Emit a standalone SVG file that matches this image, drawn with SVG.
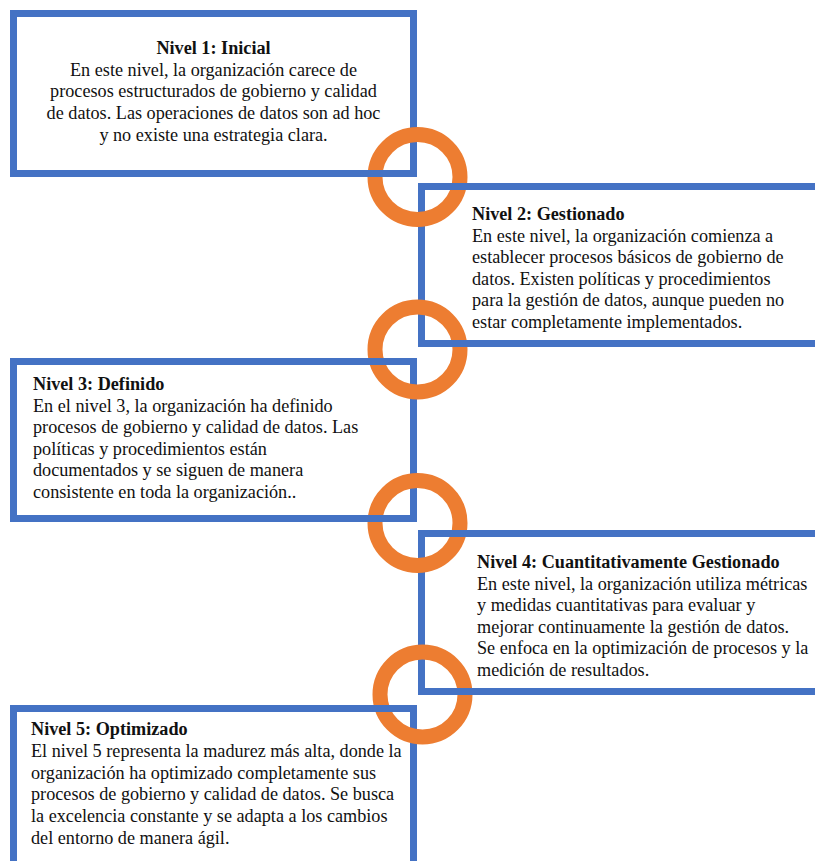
<svg xmlns="http://www.w3.org/2000/svg" width="815" height="861" viewBox="0 0 815 861">
<style>
.box{fill:#fff;stroke:#4472C4;stroke-width:7}
.edge{stroke:#4472C4;stroke-width:7;fill:none}
.ring{fill:none;stroke:#ED7D31;stroke-width:15}
text{font-family:'Liberation Serif','Times New Roman','DejaVu Serif',serif;font-size:18.2px;fill:#111}
.t{font-weight:bold}
</style>
<rect width="815" height="861" fill="#fff"/>
<g id="nivel1">
<rect class="box" x="13.5" y="13.5" width="400" height="160"/>
<text text-anchor="middle" x="213.5" y="54"><tspan class="t">Nivel 1: Inicial</tspan><tspan x="213.5" dy="21.7">En este nivel, la organización carece de</tspan><tspan x="213.5" dy="21.7">procesos estructurados de gobierno y calidad</tspan><tspan x="213.5" dy="21.7">de datos. Las operaciones de datos son ad hoc</tspan><tspan x="213.5" dy="21.7">y no existe una estrategia clara.</tspan></text>
</g>
<g id="nivel2">
<rect class="box" x="421.5" y="186.5" width="420" height="157"/>
<text x="472" y="220"><tspan class="t">Nivel 2: Gestionado</tspan><tspan x="472" dy="21.5">En este nivel, la organización comienza a</tspan><tspan x="472" dy="21.5">establecer procesos básicos de gobierno de</tspan><tspan x="472" dy="21.5">datos. Existen políticas y procedimientos</tspan><tspan x="472" dy="21.5">para la gestión de datos, aunque pueden no</tspan><tspan x="472" dy="21.5">estar completamente implementados.</tspan></text>
</g>
<g id="nivel3">
<rect class="box" x="13.5" y="361.5" width="400" height="157"/>
<text x="33" y="390"><tspan class="t">Nivel 3: Definido</tspan><tspan x="33" dy="21.5">En el nivel 3, la organización ha definido</tspan><tspan x="33" dy="21.5">procesos de gobierno y calidad de datos. Las</tspan><tspan x="33" dy="21.5">políticas y procedimientos están</tspan><tspan x="33" dy="21.5">documentados y se siguen de manera</tspan><tspan x="33" dy="21.5">consistente en toda la organización..</tspan></text>
</g>
<g id="nivel4">
<rect class="box" x="421.5" y="533.5" width="420" height="158"/>
<text x="477" y="568"><tspan class="t">Nivel 4: Cuantitativamente Gestionado</tspan><tspan x="477" dy="21.6">En este nivel, la organización utiliza métricas</tspan><tspan x="477" dy="21.6">y medidas cuantitativas para evaluar y</tspan><tspan x="477" dy="21.6">mejorar continuamente la gestión de datos.</tspan><tspan x="477" dy="21.6">Se enfoca en la optimización de procesos y la</tspan><tspan x="477" dy="21.6">medición de resultados.</tspan></text>
</g>
<g id="nivel5">
<rect class="box" x="13.5" y="708.5" width="400" height="200"/>
<text x="31" y="735"><tspan class="t">Nivel 5: Optimizado</tspan><tspan x="31" dy="21.8">El nivel 5 representa la madurez más alta, donde la</tspan><tspan x="31" dy="21.8">organización ha optimizado completamente sus</tspan><tspan x="31" dy="21.8">procesos de gobierno y calidad de datos. Se busca</tspan><tspan x="31" dy="21.8">la excelencia constante y se adapta a los cambios</tspan><tspan x="31" dy="21.8">del entorno de manera ágil.</tspan></text>
</g>
<g id="connectors">
<circle class="ring" cx="417.5" cy="177" r="42.5"/>
<circle class="ring" cx="417.5" cy="349.5" r="42.5"/>
<circle class="ring" cx="417.5" cy="523" r="42.5"/>
<circle class="ring" cx="422.5" cy="694.5" r="42.5"/>
<path class="edge" d="M360 173.5H413.5M421.5 186.5H475M421.5 343.5H475M360 361.5H413.5M360 518.5H413.5M421.5 533.5H475M421.5 691.5H475M360 708.5H413.5"/>
</g>
</svg>
